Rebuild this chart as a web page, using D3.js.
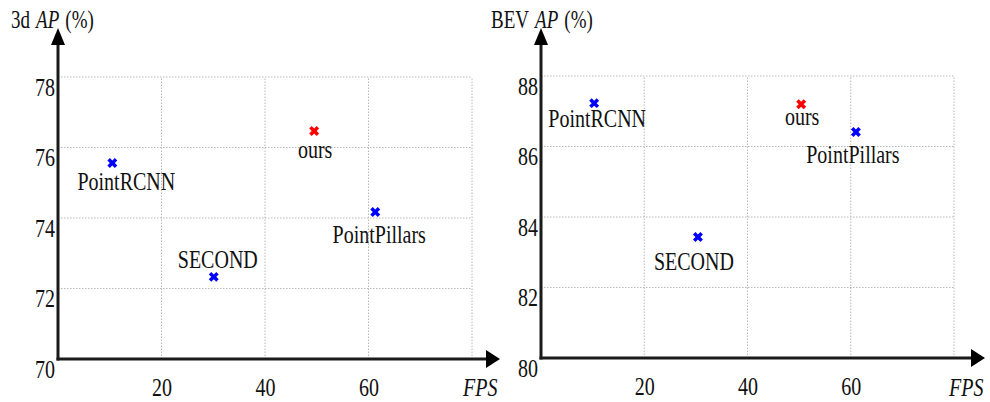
<!DOCTYPE html>
<html>
<head>
<meta charset="utf-8">
<script src="https://cdn.jsdelivr.net/npm/d3@7"></script>
</head>
<body style="margin:0; background:#fff">
<script>
// data
let methods = ["PointRCNN", "SECOND", "ours", "PointPillars"]
let fps3d = [10.5, 30.1, 49.5, 61.3]
let ap3d = [75.56, 72.33, 76.47, 74.17]
let fpsBev = [10.3, 30.4, 50.4, 61.0]
let apBev = [87.23, 83.43, 87.2, 86.41]
let xTicks = [20, 40, 60]
let xGrid = [20, 40, 60, 80]
let yTicks3d = [70, 72, 74, 76, 78]
let yTicksBev = [80, 82, 84, 86, 88]

let width = 990, height = 402
let stretch = 1.28   // the original picture is squashed sideways
let serif = "Liberation Serif"

let svg = d3.select("body")
  .append("svg")
  .attr("width", width)
  .attr("height", height)
  .attr("font-family", serif)

// tall font, then squeeze sideways
function squash(sel) {
  sel.each(function() {
    let w = this.getComputedTextLength()
    d3.select(this)
      .attr("textLength", w / stretch)
      .attr("lengthAdjust", "spacingAndGlyphs")
  })
}

// panel layout
let panels = [
  {
    title: ["3d", "AP", "(%)"], titleX: 11,
    fps: fps3d, ap: ap3d, yTicks: yTicks3d, yDomain: [70, 78],
    left: 58, right: 472, top: 77, bottom: 359, arrowX: 500, fpsX: 463,
    labelOffset: {PointRCNN: [14, 27], SECOND: [4, -9], ours: [1, 27], PointPillars: [4, 31]}
  },
  {
    title: ["BEV", "AP", "(%)"], titleX: 491,
    fps: fpsBev, ap: apBev, yTicks: yTicksBev, yDomain: [80, 88],
    left: 541, right: 954, top: 76, bottom: 358, arrowX: 985, fpsX: 949,
    labelOffset: {PointRCNN: [3, 24], SECOND: [-4, 33], ours: [1, 21], PointPillars: [-3, 31]}
  }
]

let marker = d3.symbol().type(d3.symbolCross).size(62)
let fs = 20 * stretch

panels.forEach(p => {
  let x = d3.scaleLinear().domain([0, 80]).range([p.left, p.right])
  let y = d3.scaleLinear().domain(p.yDomain).range([p.bottom, p.top])
  let g = svg.append("g")

  // dotted grid
  g.selectAll(".vgrid")
    .data(xGrid)
    .enter()
    .append("line")
    .attr("x1", d => x(d)).attr("x2", d => x(d))
    .attr("y1", y(p.yDomain[0])).attr("y2", y(p.yDomain[1]))
    .attr("stroke", "#b8b8b8")
    .attr("stroke-dasharray", "1.5,1.5")

  g.selectAll(".hgrid")
    .data(p.yTicks.slice(1))
    .enter()
    .append("line")
    .attr("x1", x(0)).attr("x2", x(80))
    .attr("y1", d => y(d)).attr("y2", d => y(d))
    .attr("stroke", "#b8b8b8")
    .attr("stroke-dasharray", "1.5,1.5")

  // x axis labels
  let xAxis = g.append("g")
    .attr("transform", "translate(0," + p.bottom + ")")
    .call(d3.axisBottom(x).tickValues(xTicks).tickSize(0).tickFormat(d3.format("d")))
  xAxis.attr("font-family", serif).attr("font-size", fs)
  xAxis.select(".domain").remove()
  xAxis.selectAll("text")
    .attr("y", 37).attr("dy", null)
    .attr("fill", "#111")
    .call(squash)

  // y axis labels
  let yAxis = g.append("g")
    .attr("transform", "translate(" + p.left + ",0)")
    .call(d3.axisLeft(y).tickValues(p.yTicks).tickSize(0).tickFormat(d3.format("d")))
  yAxis.attr("font-family", serif).attr("font-size", fs)
  yAxis.select(".domain").remove()
  yAxis.selectAll("text")
    .attr("x", -3).attr("y", 18).attr("dy", null)
    .attr("fill", "#111")
    .call(squash)

  // heavy axis lines with arrow heads
  g.append("line")
    .attr("x1", p.left).attr("x2", p.left)
    .attr("y1", p.bottom + 1.5).attr("y2", 44)
    .attr("stroke", "#1a1a1a").attr("stroke-width", 3)
  g.append("path")
    .attr("d", "M" + p.left + ",28L" + (p.left - 7) + ",45L" + (p.left + 7) + ",45Z")
    .attr("fill", "#000")

  g.append("line")
    .attr("x1", p.left - 1.5).attr("x2", p.arrowX - 13)
    .attr("y1", p.bottom).attr("y2", p.bottom)
    .attr("stroke", "#1a1a1a").attr("stroke-width", 3)
  g.append("path")
    .attr("d", "M" + p.arrowX + "," + p.bottom + "L" + (p.arrowX - 14) + "," + (p.bottom - 9) +
      "L" + (p.arrowX - 14) + "," + (p.bottom + 9) + "Z")
    .attr("fill", "#000")

  // axis titles, one piece at a time so the italic part sits right
  let tfs = 19 * stretch
  let tx = p.titleX
  p.title.forEach((s, i) => {
    let piece = g.append("text")
      .attr("x", tx).attr("y", 28)
      .attr("font-family", serif)
      .attr("font-size", tfs)
      .attr("font-style", i == 1 ? "italic" : "normal")
      .attr("fill", "#111")
      .text(s)
    let w = piece.node().getComputedTextLength() / stretch
    piece.attr("textLength", w).attr("lengthAdjust", "spacingAndGlyphs")
    tx += w + 0.32 * tfs / stretch
  })

  g.append("text")
    .attr("x", p.fpsX).attr("y", 396)
    .attr("font-family", serif)
    .attr("font-size", fs)
    .attr("font-style", "italic")
    .attr("fill", "#111")
    .text("FPS")
    .call(squash)

  // points
  let pts = methods.map((m, i) => ({name: m, fps: p.fps[i], ap: p.ap[i]}))

  g.selectAll(".mark")
    .data(pts)
    .enter()
    .append("path")
    .attr("d", marker)
    .attr("transform", d => "translate(" + x(d.fps) + "," + y(d.ap) + ") rotate(45)")
    .attr("fill", d => d.name == "ours" ? "#ff0000" : "#0000ff")

  g.selectAll(".label")
    .data(pts)
    .enter()
    .append("text")
    .attr("text-anchor", "middle")
    .attr("x", d => x(d.fps) + p.labelOffset[d.name][0])
    .attr("y", d => y(d.ap) + p.labelOffset[d.name][1])
    .attr("font-family", serif)
    .attr("font-size", fs)
    .attr("fill", "#111")
    .text(d => d.name)
    .call(squash)
})
</script>
</body>
</html>
